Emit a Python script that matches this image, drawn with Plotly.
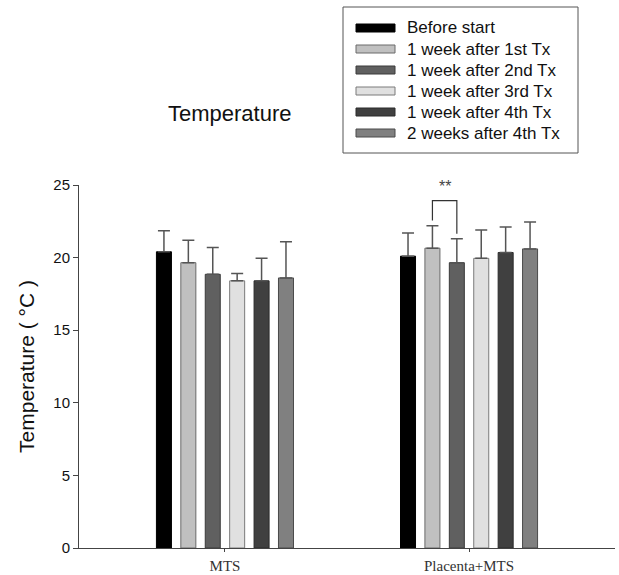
import plotly.graph_objects as go

categories = ["MTS", "Placenta+MTS"]
series_names = ["Before start", "1 week after 1st Tx", "1 week after 2nd Tx",
                "1 week after 3rd Tx", "1 week after 4th Tx", "2 weeks after 4th Tx"]
means = [
    [20.4, 20.1],
    [19.65, 20.65],
    [18.85, 19.65],
    [18.4, 19.95],
    [18.4, 20.35],
    [18.6, 20.6],
]
errors = [
    [1.45, 1.6],
    [1.55, 1.55],
    [1.85, 1.65],
    [0.5, 1.95],
    [1.55, 1.75],
    [2.5, 1.85],
]
fills = ["#000000", "#c0c0c0", "#606060", "#e0e0e0", "#404040", "#808080"]
outlines = ["#000000", "#6a6a6a", "#3a3a3a", "#7a7a7a", "#2a2a2a", "#4a4a4a"]
y_ticks = [0, 5, 10, 15, 20, 25]
# significance: Placenta+MTS, 1st Tx vs 2nd Tx
sig_cat = 1
sig_pair = (1, 2)
sig_label = "**"

W, H = 619, 575
L, R, T, B = 79, 4, 185, 27
pw, ph = W - L - R, H - T - B
x_range = [-0.598, 1.598]
y_range = [0, 25]

def px(x):
    return (x - L) / pw

def py(y):
    return (H - B - y) / ph

fig = go.Figure()
x_idx = list(range(len(categories)))
for name, m, e, fc, lc in zip(series_names, means, errors, fills, outlines):
    fig.add_trace(go.Bar(
        x=x_idx, y=m, name=name, showlegend=False,
        marker=dict(color=fc, line=dict(color=lc, width=1)),
        error_y=dict(type="data", array=e, arrayminus=[0] * len(e), symmetric=False,
                     color="#555555", thickness=1.5, width=6),
    ))

bargap = 0.4
bargroupgap = 0.385
n = len(series_names)
slot = (1 - bargap) / n

def bar_center(cat, i):
    return cat - (1 - bargap) / 2 + slot * (i + 0.5)

# significance bracket
xa = bar_center(sig_cat, sig_pair[0])
xb = bar_center(sig_cat, sig_pair[1])
top_y = 23.93
ya = means[sig_pair[0]][sig_cat] + errors[sig_pair[0]][sig_cat] + 0.35
yb = means[sig_pair[1]][sig_cat] + errors[sig_pair[1]][sig_cat] + 0.35
fig.add_shape(type="path", xref="x", yref="y",
              path=f"M {xa},{ya} L {xa},{top_y} L {xb},{top_y} L {xb},{yb}",
              line=dict(color="#333333", width=1.2))
fig.add_annotation(x=(xa + xb) / 2, y=top_y + 0.25, xref="x", yref="y", text=sig_label,
                   showarrow=False, font=dict(family="Liberation Sans, Arial", size=16, color="#444444"),
                   yanchor="bottom")

# title
fig.add_annotation(x=px(230), y=py(113), xref="paper", yref="paper", text="Temperature",
                   showarrow=False, xanchor="center", yanchor="middle",
                   font=dict(family="Liberation Sans, Arial", size=22, color="#111111"))

# legend (drawn manually)
fig.add_shape(type="rect", xref="paper", yref="paper",
              x0=px(343), x1=px(578), y0=py(153), y1=py(7),
              line=dict(color="#555555", width=1), fillcolor="white")
row0, dy = 28, 21
for i, (name, fc, lc) in enumerate(zip(series_names, fills, outlines)):
    yc = row0 + i * dy
    fig.add_shape(type="rect", xref="paper", yref="paper",
                  x0=px(356), x1=px(395), y0=py(yc + 4), y1=py(yc - 4),
                  line=dict(color=lc, width=1), fillcolor=fc)
    fig.add_annotation(x=px(405), y=py(yc), xref="paper", yref="paper", text=name,
                       showarrow=False, xanchor="left", yanchor="middle",
                       font=dict(family="Liberation Sans, Arial", size=17, color="#111111"))

fig.update_layout(
    width=W, height=H,
    margin=dict(l=L, r=R, t=T, b=B, pad=0),
    paper_bgcolor="white", plot_bgcolor="white",
    barmode="group", bargap=bargap, bargroupgap=bargroupgap,
    showlegend=False,
)
fig.update_xaxes(range=x_range, tickvals=x_idx, ticktext=categories, automargin=False,
                 showline=True, linecolor="#444444", linewidth=1, showgrid=False, zeroline=False,
                 ticks="outside", ticklen=3, tickcolor="#444444", ticklabelstandoff=1,
                 tickfont=dict(family="Liberation Serif, Times New Roman", size=15, color="#333333"))
fig.update_yaxes(range=y_range, tickvals=y_ticks, automargin=False,
                 showline=True, linecolor="#444444", linewidth=1, showgrid=False, zeroline=False,
                 ticks="outside", ticklen=5, tickcolor="#444444",
                 tickfont=dict(family="Liberation Sans, Arial", size=15, color="#111111"),
                 title=dict(text="Temperature ( °C )", standoff=12,
                            font=dict(family="Liberation Sans, Arial", size=21, color="#111111")))

fig.write_html("out.html")
